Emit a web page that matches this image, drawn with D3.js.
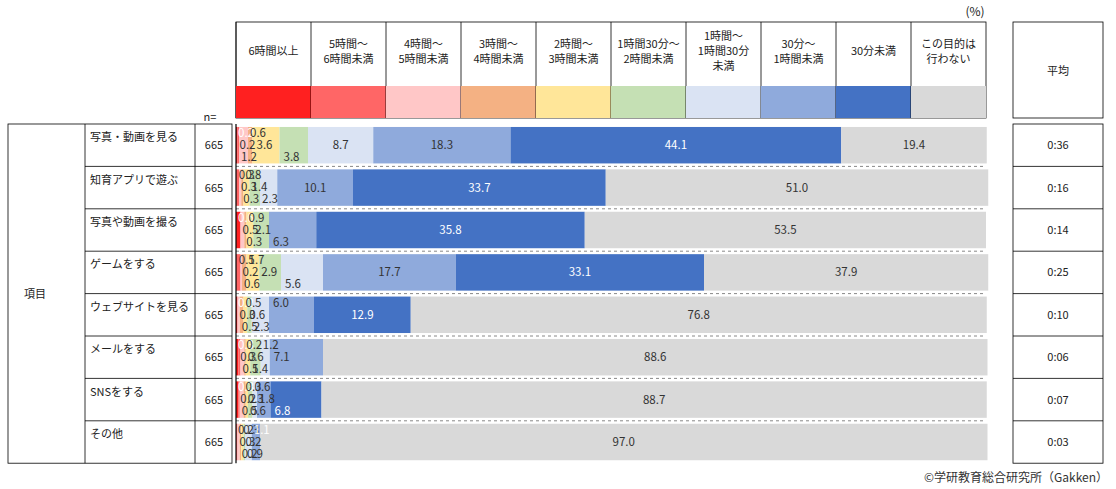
<!DOCTYPE html>
<html><head><meta charset="utf-8">
<script src="https://cdn.jsdelivr.net/npm/d3@7"></script>
<style>body{margin:0;background:#fff;font-family:"Noto Sans CJK JP","Noto Sans",sans-serif;}</style>
</head><body><div id="chart"></div>
<script>
var categories = ["6時間以上","5時間～\n6時間未満","4時間～\n5時間未満","3時間～\n4時間未満","2時間～\n3時間未満","1時間30分～\n2時間未満","1時間～\n1時間30分\n未満","30分～\n1時間未満","30分未満","この目的は\n行わない"];
var colors = ["#ff2020","#ff6666","#ffc7c7","#f4b183","#ffe699","#c5e0b4","#dae3f3","#8faadc","#4472c4","#d9d9d9"];
var items = ["写真・動画を見る","知育アプリで遊ぶ","写真や動画を撮る","ゲームをする","ウェブサイトを見る","メールをする","SNSをする","その他"];
var nValues = [665,665,665,665,665,665,665,665];
var averages = ["0:36","0:16","0:14","0:25","0:10","0:06","0:07","0:03"];
var values = [
  [0.2,0.2,1.2,0.6,3.6,3.8,8.7,18.3,44.1,19.4],
  [0.1,0.3,0.3,0.3,0.8,1.4,2.3,10.1,33.7,51.0],
  [0.6,0.0,0.5,0.3,0.9,2.1,0.0,6.3,35.8,53.5],
  [0.1,0.5,0.2,0.6,1.7,2.9,5.6,17.7,33.1,37.9],
  [0.2,0.0,0.3,0.5,0.5,0.6,2.3,6.0,12.9,76.8],
  [0.3,0.3,0.5,0.2,0.6,1.4,1.2,7.1,0.0,88.6],
  [0.3,0.2,0.5,0.3,0.3,0.6,0.6,1.8,6.8,88.7],
  [0.0,0.2,0.3,0.2,0.3,0.2,0.9,1.1,0.0,97.0]
];
var hidden = [[],[0],[1,6],[0],[1],[8],[],[0,8]];

var W = 1116, H = 489;
var svg = d3.select("#chart").append("svg").attr("width", W).attr("height", H)
  .style("font-family", '"Noto Sans CJK JP","Noto Sans",sans-serif');

var x0 = 236, x1 = 986, topY = 124, rowH = 42.4;
var x = d3.scaleLinear().domain([0, 100]).range([x0, x1]);
var y = d3.scaleBand().domain(d3.range(items.length)).range([topY, topY + rowH * items.length]).paddingInner(0.14).paddingOuter(0.07);
var hx = d3.scaleBand().domain(d3.range(categories.length)).range([x0, x1]);

// header
var hdr = svg.append("g");
hdr.append("rect").attr("x", x0).attr("y", 22).attr("width", x1 - x0).attr("height", 96)
  .attr("fill", "none").attr("stroke", "#000").attr("stroke-width", 0.8);
categories.forEach(function(c, i) {
  var cx = hx(i);
  hdr.append("line").attr("x1", cx).attr("x2", cx).attr("y1", 22).attr("y2", 118).attr("stroke", "#000").attr("stroke-width", 0.8);
  hdr.append("rect").attr("x", cx).attr("y", 86).attr("width", hx.bandwidth()).attr("height", 32).attr("fill", colors[i]);
  var lines = c.split("\n");
  var t = hdr.append("text").attr("text-anchor", "middle").attr("font-size", 11).attr("fill", "#222");
  lines.forEach(function(l, k) {
    t.append("tspan").attr("x", cx + hx.bandwidth() / 2)
      .attr("y", 55 + (k - (lines.length - 1) / 2) * 15).text(l);
  });
});
hdr.append("text").attr("x", 975).attr("y", 16).attr("font-size", 12).attr("fill", "#222").attr("text-anchor", "middle").text("(%)");
svg.append("text").attr("x", 210).attr("y", 121).attr("font-size", 11).attr("fill", "#222").attr("text-anchor", "middle").text("n=");

// right avg box
svg.append("rect").attr("x", 1013).attr("y", 22).attr("width", 90).attr("height", 96).attr("fill", "none").attr("stroke", "#000").attr("stroke-width", 0.8);
svg.append("text").attr("x", 1058).attr("y", 75).attr("font-size", 11).attr("text-anchor", "middle").attr("fill", "#222").text("平均");

// left table
var tb = topY + rowH * items.length;
svg.append("rect").attr("x", 8).attr("y", topY).attr("width", 224).attr("height", tb - topY).attr("fill", "none").attr("stroke", "#000").attr("stroke-width", 0.8);
[85, 195].forEach(function(v) {
  svg.append("line").attr("x1", v).attr("x2", v).attr("y1", topY).attr("y2", tb).attr("stroke", "#000").attr("stroke-width", 0.8);
});
svg.append("rect").attr("x", 1013).attr("y", topY).attr("width", 90).attr("height", tb - topY).attr("fill", "none").attr("stroke", "#000").attr("stroke-width", 0.8);
svg.append("text").attr("x", 24).attr("y", (topY + tb) / 2 + 4).attr("font-size", 11).attr("fill", "#222").text("項目");

items.forEach(function(name, r) {
  var ry = topY + r * rowH;
  if (r > 0) {
    svg.append("line").attr("x1", 85).attr("x2", 232).attr("y1", ry).attr("y2", ry).attr("stroke", "#000").attr("stroke-width", 0.8);
    svg.append("line").attr("x1", 1013).attr("x2", 1103).attr("y1", ry).attr("y2", ry).attr("stroke", "#000").attr("stroke-width", 0.8);
    svg.append("line").attr("x1", x0).attr("x2", x1).attr("y1", ry).attr("y2", ry).attr("stroke", "#888").attr("stroke-dasharray", "3,3");
  }
  svg.append("text").attr("x", 90).attr("y", ry + rowH / 2 - 4).attr("font-size", 11).attr("fill", "#222").text(name);
  svg.append("text").attr("x", 214).attr("y", ry + rowH / 2 + 4).attr("font-size", 11).attr("fill", "#222").attr("text-anchor", "middle").text(nValues[r]);
  svg.append("text").attr("x", 1058).attr("y", ry + rowH / 2 + 4).attr("font-size", 11).attr("fill", "#222").attr("text-anchor", "middle").text(averages[r]);
});

// bars
items.forEach(function(name, r) {
  var acc = 0, small = 0;
  var segs = values[r].map(function(v, i) { var s = {v: v, i: i, start: acc}; acc += v; return s; });
  var g = svg.append("g");
  g.selectAll("rect").data(segs).enter().append("rect")
    .attr("x", function(d) { return x(d.start); })
    .attr("y", y(r))
    .attr("width", function(d) { return x(d.start + d.v) - x(d.start); })
    .attr("height", y.bandwidth())
    .attr("fill", function(d) { return colors[d.i]; });
  segs.forEach(function(d) {
    if (hidden[r].indexOf(d.i) >= 0) return;
    var cx = x(d.start + d.v / 2), cy;
    if (d.v < 8 && d.i < 9 && !(d.v >= 5 && r === 0)) {
      var k = small % 3; small++;
      cx = x(d.start) + 10 + (d.v < 3 ? 0 : 2);
      cy = y(r) + 10 + k * 12;
    } else {
      cy = y(r) + y.bandwidth() / 2 + 4;
    }
    var white = d.i === 0 || (d.i === 8 && d.v > 5) || (d.i === 7 && r === 7);
    g.append("text").attr("x", cx).attr("y", cy).attr("text-anchor", "middle")
      .attr("font-size", 11.5).attr("fill", white ? "#fff" : "#333").text(d.v.toFixed(1));
  });
});
svg.append("line").attr("x1", x0).attr("x2", x0).attr("y1", topY).attr("y2", tb).attr("stroke", "#000").attr("stroke-width", 1.2);

svg.append("text").attr("x", 1108).attr("y", 482).attr("font-size", 12).attr("text-anchor", "end").attr("fill", "#333").text("©学研教育総合研究所（Gakken）");
</script></body></html>
